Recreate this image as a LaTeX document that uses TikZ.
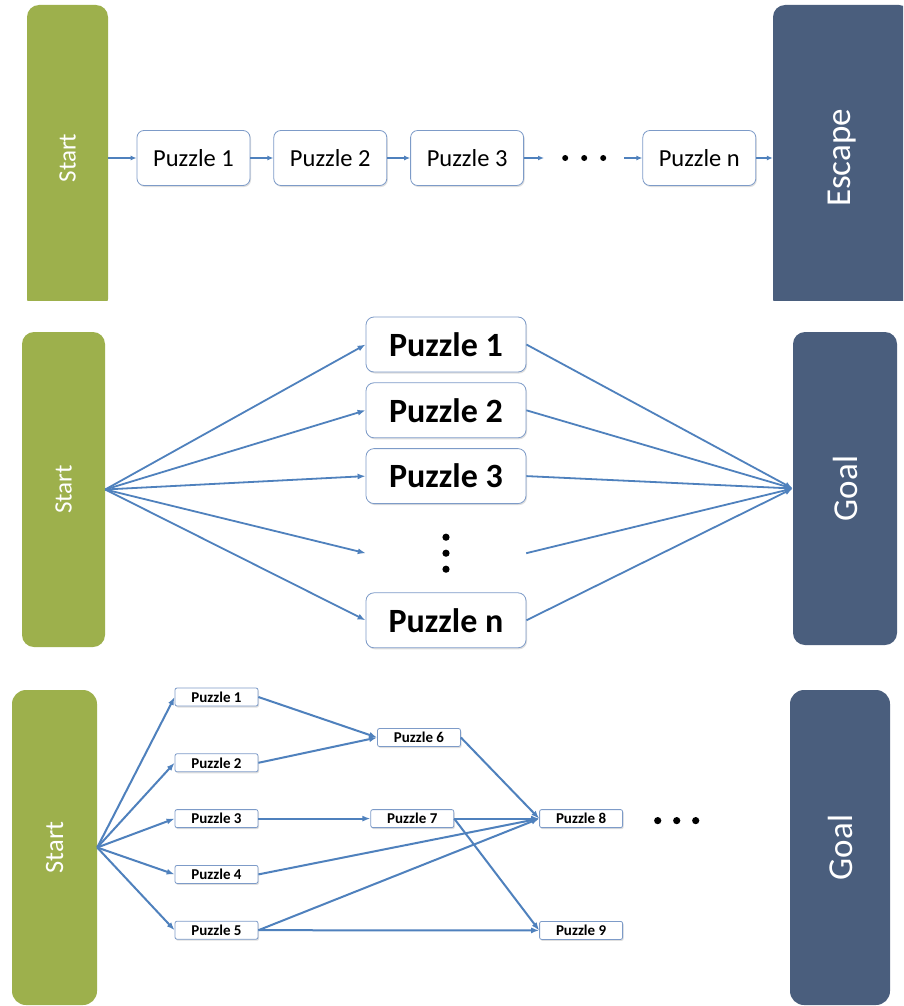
\documentclass[tikz,border=0pt]{standalone}
\usepackage{fontspec}
\setmainfont{Carlito}
\usepackage{graphicx}
\usetikzlibrary{positioning,arrows.meta,shadows}

\definecolor{startgreen}{RGB}{157,176,76}
\definecolor{goalslate}{RGB}{74,94,125}
\definecolor{flowblue}{RGB}{79,129,189}
\definecolor{boxline}{RGB}{125,155,200}

\tikzset{
  bar/.style={rectangle, rounded corners=12pt, inner sep=0pt, text=white},
  startbar/.style={bar, fill=startgreen},
  goalbar/.style={bar, fill=goalslate},
  puzzle/.style={rectangle, draw=boxline, fill=white, line width=0.8pt, inner sep=0pt,
    drop shadow={shadow xshift=1pt, shadow yshift=-1.5pt, opacity=0.25}},
  chainpuzzle/.style={puzzle, rounded corners=7pt, minimum width=113pt, minimum height=55pt,
    font=\fontsize{24.5}{28}\selectfont},
  fanpuzzle/.style={puzzle, rounded corners=8pt, minimum width=160pt, minimum height=55pt,
    font=\fontsize{34}{38}\selectfont\bfseries},
  netpuzzle/.style={puzzle, rounded corners=2pt, minimum width=83pt, minimum height=18pt,
    font=\fontsize{15}{17}\selectfont\bfseries},
  flow/.style={draw=flowblue, line width=1.8pt, -{Latex[length=8pt,width=6pt]}},
  chainflow/.style={flow, line width=1.6pt, -{Latex[length=6pt,width=5pt]}},
  netflow/.style={flow, line width=2pt},
}

\begin{document}
\begin{tikzpicture}[x=1pt,y=-1pt]
  \useasboundingbox (0,0) rectangle (903,1006);
  \fill[white] (0,0) rectangle (903,1006);

  % row of puzzles
  \begin{scope}
    \clip (0,0) rectangle (903,300);
    \node[startbar, minimum width=81pt, minimum height=306pt, font=\fontsize{25}{30}\selectfont] (start1) at (67.5,158) {\rotatebox{90}{Start}};
    \node[goalbar, minimum width=138pt, minimum height=306pt, font=\fontsize{35}{40}\selectfont] (escape) at (842,158) {\rotatebox{90}{Escape}};
    \node[chainpuzzle] (a1) at (193.5,158) {Puzzle 1};
    \node[chainpuzzle] (a2) [right = 23pt of a1] {Puzzle 2};
    \node[chainpuzzle] (a3) [right = 23pt of a2] {Puzzle 3};
    \node[minimum width=80pt, minimum height=55pt, inner sep=0pt] (adots) [right = 20pt of a3] {};
    \node[chainpuzzle] (an) [right = 18pt of adots] {Puzzle n};
    \foreach \dx in {-19,0,19}
      \fill ([xshift=\dx pt]adots.center) circle (3pt);
    \draw[chainflow] (start1) -- (a1);
    \draw[chainflow] (a1) -- (a2);
    \draw[chainflow] (a2) -- (a3);
    \draw[chainflow] (a3) -- (adots);
    \draw[chainflow] (adots) -- (an);
    \draw[chainflow] (an) -- (escape);
  \end{scope}

  % fan of puzzles
  \node[startbar, minimum width=83pt, minimum height=315pt, font=\fontsize{25}{30}\selectfont] (start2) at (63.5,489.5) {\rotatebox{90}{Start}};
  \node[goalbar, minimum width=104pt, minimum height=313pt, font=\fontsize{35}{40}\selectfont] (goal2) at (845,488.5) {\rotatebox{90}{Goal}};
  \node[fanpuzzle] (b1) at (446,344.5) {Puzzle 1};
  \node[fanpuzzle] (b2) [below = 10pt of b1] {Puzzle 2};
  \node[fanpuzzle] (b3) [below = 10pt of b2] {Puzzle 3};
  \node[minimum width=160pt, minimum height=68pt, inner sep=0pt] (bdots) [below = 15pt of b3] {};
  \node[fanpuzzle] (bn) [below = 5pt of bdots] {Puzzle n};
  \foreach \dy in {-16,0,16}
    \fill ([yshift=\dy pt]bdots.center) circle (3.6pt);
  \foreach \b in {b1,b2,b3,bdots,bn} {
    \draw[flow] (start2.east) -- (\b.west);
    \draw[flow] (\b.east) -- (goal2.west);
  }

  % network of puzzles
  \node[startbar, rounded corners=14pt, minimum width=85pt, minimum height=315pt, font=\fontsize{26.5}{30}\selectfont] (start3) at (54.5,847.5) {\rotatebox{90}{Start}};
  \node[goalbar, rounded corners=14pt, minimum width=100pt, minimum height=315pt, font=\fontsize{35}{40}\selectfont] (goal3) at (840,847.5) {\rotatebox{90}{Goal}};
  \node[netpuzzle] (q1) at (216.5,697) {Puzzle 1};
  \node[netpuzzle] (q2) [below = 47pt of q1] {Puzzle 2};
  \node[netpuzzle] (q3) [below = 37pt of q2] {Puzzle 3};
  \node[netpuzzle] (q4) [below = 37pt of q3] {Puzzle 4};
  \node[netpuzzle] (q5) [below = 37pt of q4] {Puzzle 5};
  \node[netpuzzle] (q6) at (419,737.5) {Puzzle 6};
  \node[netpuzzle] (q7) [right = 112pt of q3] {Puzzle 7};
  \node[netpuzzle] (q8) [right = 85pt of q7] {Puzzle 8};
  \node[netpuzzle] (q9) [below = 93pt of q8] {Puzzle 9};
  \node[minimum width=57pt, minimum height=18pt, inner sep=0pt] (qdots) [right = 25pt of q8] {};
  \foreach \dx in {-19,0,19}
    \fill ([xshift=\dx pt, yshift=-2pt]qdots.center) circle (3.6pt);
  \foreach \q in {q1,q2,q3,q4,q5}
    \draw[netflow] (start3.east) -- (\q.west);
  \draw[netflow] (q1.east) -- (q6.west);
  \draw[netflow] (q2.east) -- (q6.west);
  \draw[netflow] (q3.east) -- (q7.west);
  \draw[netflow] (q6.east) -- (q8.west);
  \draw[netflow] (q7.east) -- (q8.west);
  \draw[netflow] (q4.east) -- (q8.west);
  \draw[netflow] (q5.east) -- (q8.west);
  \draw[netflow] (q7.east) -- (q9.west);
  \draw[netflow] (q5.east) -- (q9.west);
\end{tikzpicture}
\end{document}
